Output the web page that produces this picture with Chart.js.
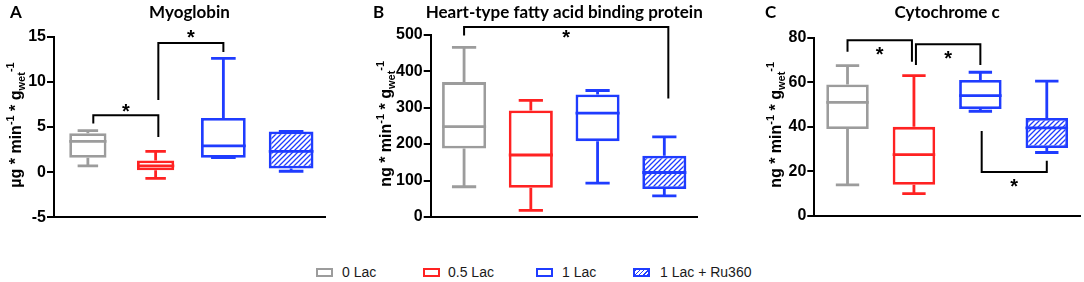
<!DOCTYPE html>
<html>
<head>
<meta charset="utf-8">
<script src="https://cdn.jsdelivr.net/npm/chart.js@4.4.0/dist/chart.umd.min.js"></script>
<style>
body { margin: 0; background: #fff; width: 1084px; height: 282px; position: relative; overflow: hidden; font-family: "Liberation Sans", Arial, Helvetica, sans-serif; }
canvas { position: absolute; top: 0; }
.sw { position: absolute; top: 268px; width: 17px; height: 9px; box-sizing: border-box; border: 2.5px solid; background: #fff; }
.lt { position: absolute; top: 264px; font-size: 14px; line-height: 17px; color: #1a1a1a; white-space: nowrap; }
</style>
</head>
<body>
<canvas id="chartA" width="340" height="235" style="left:0"></canvas>
<canvas id="chartB" width="360" height="235" style="left:360px"></canvas>
<canvas id="chartC" width="354" height="235" style="left:730px"></canvas>

<div class="sw" style="left:316px;border-color:#9c9c9c"></div><div class="lt" style="left:342px">0 Lac</div>
<div class="sw" style="left:423px;border-color:#ff2222"></div><div class="lt" style="left:448px">0.5 Lac</div>
<div class="sw" style="left:536px;border-color:#1f3cff"></div><div class="lt" style="left:562px">1 Lac</div>
<div class="sw" style="left:633px;border-color:#1f3cff;background:repeating-linear-gradient(135deg,#1f3cff 0 1px,#fff 1px 3px)"></div><div class="lt" style="left:660px">1 Lac + Ru360</div>

<script>
const groups = ["0 Lac", "0.5 Lac", "1 Lac", "1 Lac + Ru360"];
const colors = ["#9c9c9c", "#ff2222", "#1f3cff", "#1f3cff"];

// box stats per group: [min, q1, median, q3, max]
const myoglobin = [[0.7, 1.6, 3.4, 4.3, 4.6], [-0.7, 0.2, 0.7, 1.3, 2.3], [1.6, 1.6, 2.9, 6.0, 12.6], [0.1, 0.4, 2.3, 4.5, 4.5]];
const hfabp = [[83, 188, 248, 370, 465], [18, 80, 170, 292, 320], [93, 208, 285, 336, 347], [58, 77, 122, 168, 220]];
const cytc = [[14, 39, 51, 59, 67.5], [10, 14, 27.5, 40, 63], [47, 48, 54, 61, 64.5], [28.5, 30.5, 39.5, 44, 60.5]];

// y tick labels
const ticksMyo = [-5, 0, 5, 10, 15];
const ticksFabp = [0, 100, 200, 300, 400, 500];
const ticksCyt = [0, 20, 40, 60, 80];

// significance brackets: [from group, to group, left end, bar level, right end, star level]
const sigMyo = [[0.08, 1.04, 5.4, 6.3, 3.9, 7.2], [1.04, 2, 8.0, 14.3, 13.3, 15.4]];
const sigFabp = [[0, 3.06, 498, 521, 325, 504]];
const sigCyt = [[0, 0.97, 73.7, 78.9, 69.2, 74.4], [1.03, 2, 67.7, 77.1, 67.7, 72.6], [2.02, 3, 38.1, 19.7, 24.8, 15.4]];

function makeHatch() {
    const c = document.createElement("canvas");
    c.width = 5; c.height = 5;
    const g = c.getContext("2d");
    g.fillStyle = "#fff";
    g.fillRect(0, 0, 5, 5);
    g.strokeStyle = "#1f3cff";
    g.lineWidth = 1.3;
    g.beginPath();
    g.moveTo(-1, 6); g.lineTo(6, -1);
    g.moveTo(-1, 1); g.lineTo(1, -1);
    g.moveTo(4, 6); g.lineTo(6, 4);
    g.stroke();
    return g.createPattern(c, "repeat");
}
const hatch = makeHatch();

function drawRich(ctx, parts, size, cx, cy) {
    ctx.save();
    ctx.translate(cx, cy);
    ctx.rotate(-Math.PI / 2);
    ctx.fillStyle = "#000";
    ctx.textBaseline = "alphabetic";
    const fontFor = k => `bold ${k ? Math.round(size * 0.68) : size}px "Liberation Sans", Arial`;
    let total = 0;
    parts.forEach(p => { ctx.font = fontFor(p[1]); total += ctx.measureText(p[0]).width; });
    let x = -total / 2;
    parts.forEach(p => {
        ctx.font = fontFor(p[1]);
        const dy = p[1] === 1 ? -size * 0.42 : (p[1] === -1 ? size * 0.22 : 0);
        ctx.fillText(p[0], x, dy);
        x += ctx.measureText(p[0]).width;
    });
    ctx.restore();
}

const boxPlugin = {
    id: "boxes",
    afterDatasetsDraw(chart, args, o) {
        const { ctx } = chart;
        const y = chart.scales.y;
        o.stats.forEach((s, i) => {
            const bar = chart.getDatasetMeta(i).data[0];
            const w = bar.width, cx = bar.x, cap = w * 0.55;
            ctx.save();
            ctx.strokeStyle = colors[i];
            ctx.lineWidth = 2.8;
            ctx.beginPath();
            ctx.moveTo(cx, y.getPixelForValue(s[3])); ctx.lineTo(cx, y.getPixelForValue(s[4]));
            ctx.moveTo(cx - cap / 2, y.getPixelForValue(s[4])); ctx.lineTo(cx + cap / 2, y.getPixelForValue(s[4]));
            ctx.moveTo(cx, y.getPixelForValue(s[1])); ctx.lineTo(cx, y.getPixelForValue(s[0]));
            ctx.moveTo(cx - cap / 2, y.getPixelForValue(s[0])); ctx.lineTo(cx + cap / 2, y.getPixelForValue(s[0]));
            ctx.moveTo(cx - w / 2, y.getPixelForValue(s[2])); ctx.lineTo(cx + w / 2, y.getPixelForValue(s[2]));
            ctx.stroke();
            ctx.restore();
        });
    },
    afterDraw(chart, args, o) {
        const { ctx, chartArea } = chart;
        const x = chart.scales.x, y = chart.scales.y;
        const px = v => x.getPixelForValue(0) + v * (x.getPixelForValue(1) - x.getPixelForValue(0));
        ctx.save();
        ctx.strokeStyle = "#000";
        ctx.lineWidth = 2;
        o.sig.forEach(b => {
            const x1 = px(b[0]), x2 = px(b[1]);
            ctx.beginPath();
            ctx.moveTo(x1, y.getPixelForValue(b[2]));
            ctx.lineTo(x1, y.getPixelForValue(b[3]));
            ctx.lineTo(x2, y.getPixelForValue(b[3]));
            ctx.lineTo(x2, y.getPixelForValue(b[4]));
            ctx.stroke();
            ctx.fillStyle = "#000";
            ctx.font = 'bold 20px "Liberation Sans", Arial';
            ctx.textAlign = "center";
            ctx.textBaseline = "alphabetic";
            ctx.fillText("*", (x1 + x2) / 2, y.getPixelForValue(b[5]) + 11);
        });
        // panel letter and title
        ctx.fillStyle = "#000";
        ctx.textBaseline = "alphabetic";
        ctx.font = 'bold 17px Lato, "Liberation Sans", sans-serif';
        ctx.textAlign = "left";
        ctx.fillText(o.letter, o.letterX, 18);
        ctx.textAlign = "center";
        ctx.fillText(o.title, (chartArea.left + chartArea.right) / 2, 18);
        ctx.restore();
        drawRich(ctx, o.yTitle, 16, o.yTitleX, (chartArea.top + chartArea.bottom) / 2 - 2);
    }
};

function makeChart(id, stats, ticks, sig, cfg) {
    new Chart(document.getElementById(id), {
        type: "bar",
        data: {
            labels: groups,
            datasets: groups.map((g, i) => ({
                label: g,
                data: [{ x: g, y: [stats[i][1], stats[i][3]] }],
                backgroundColor: i === 3 ? hatch : "#fff",
                borderColor: colors[i],
                borderWidth: 2.8,
                borderSkipped: false,
                barPercentage: cfg.widths[i],
                categoryPercentage: 1,
                grouped: false
            }))
        },
        options: {
            responsive: false,
            animation: false,
            layout: { padding: cfg.padding },
            plugins: {
                legend: { display: false },
                tooltip: { enabled: false },
                boxes: {
                    stats: stats, sig: sig, title: cfg.title, letter: cfg.letter,
                    letterX: cfg.letterX, yTitle: cfg.yTitle, yTitleX: cfg.yTitleX
                }
            },
            scales: {
                x: {
                    ticks: { display: false },
                    grid: { display: false },
                    border: { display: true, color: "#000", width: 2 },
                    afterFit: s => { s.height = 0; }
                },
                y: {
                    min: ticks[0],
                    max: ticks[ticks.length - 1],
                    afterBuildTicks: s => { s.ticks = ticks.map(v => ({ value: v })); },
                    ticks: { color: "#000", font: { family: '"Liberation Sans", Arial', weight: "bold", size: 16 }, padding: 1 },
                    grid: { drawOnChartArea: false, tickLength: 7, color: "#000", lineWidth: 2 },
                    border: { color: "#000", width: 2 },
                    afterFit: s => { s.width = cfg.axisWidth; }
                }
            }
        },
        plugins: [boxPlugin]
    });
}

const unitMyo = [["µg * min", 0], ["-1", 1], [" * g", 0], ["wet", -1], ["-1", 1]];
const unitNg = [["ng * min", 0], ["-1", 1], [" * g", 0], ["wet", -1], ["-1", 1]];

makeChart("chartA", myoglobin, ticksMyo, sigMyo, {
    title: "Myoglobin", letter: "A", letterX: 10, yTitle: unitMyo, yTitleX: 21,
    axisWidth: 54, padding: { top: 36.7, right: 15, bottom: 17.7, left: 0 },
    widths: [0.55, 0.55, 0.66, 0.66]
});
makeChart("chartB", hfabp, ticksFabp, sigFabp, {
    title: "Heart-type fatty acid binding protein", letter: "B", letterX: 13, yTitle: unitNg, yTitleX: 31,
    axisWidth: 70.7, padding: { top: 34.7, right: 22.3, bottom: 18, left: 0 },
    widths: [0.66, 0.66, 0.66, 0.66]
});
makeChart("chartC", cytc, ticksCyt, sigCyt, {
    title: "Cytochrome c", letter: "C", letterX: 35, yTitle: unitNg, yTitleX: 51,
    axisWidth: 84.3, padding: { top: 37.7, right: 4, bottom: 19, left: 0 },
    widths: [0.64, 0.64, 0.64, 0.64]
});
</script>
</body>
</html>
